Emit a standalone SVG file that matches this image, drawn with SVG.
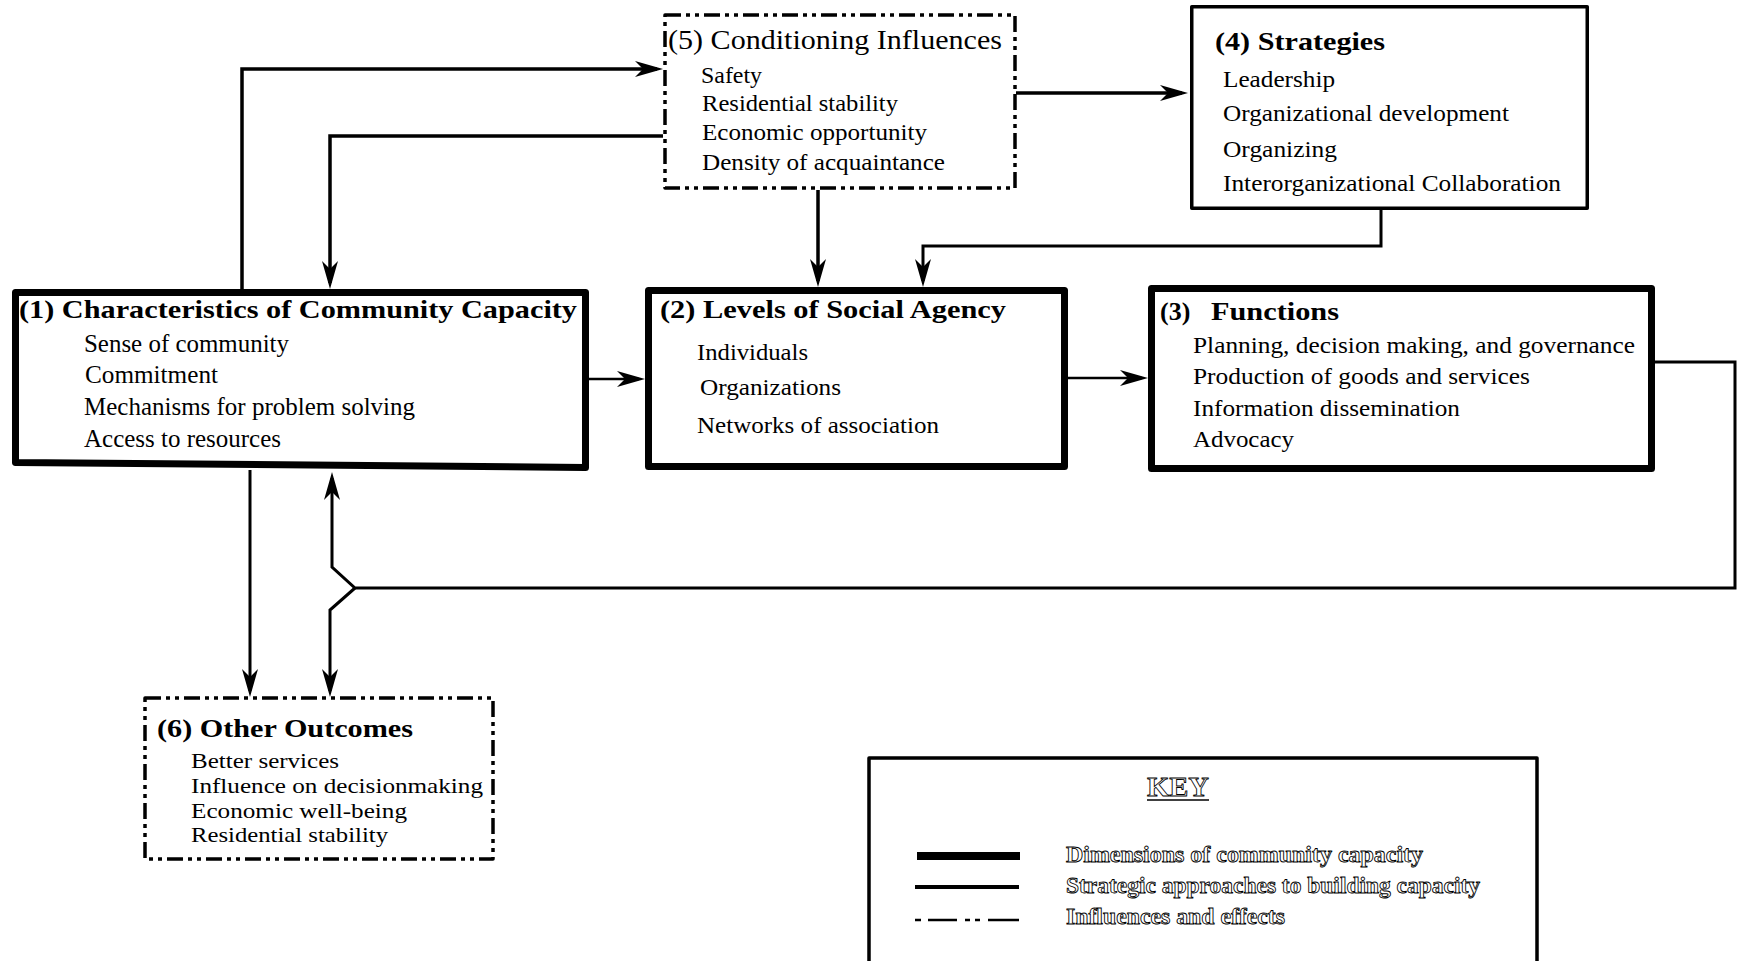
<svg xmlns="http://www.w3.org/2000/svg" width="1739" height="961" viewBox="0 0 1739 961">
<style>
  .box { fill: #fff; stroke: #000; stroke-linejoin: round; }
  .thick { stroke-width: 7; }
  .solid { stroke-width: 3.5; }
  .dash { stroke-width: 3.5; stroke-dasharray: 16 5 4 5 4 5; }
  text { font-family: "Liberation Serif", "Times New Roman", serif; fill: #000; }
  .t { font-size: 26px; font-weight: bold; }
  .t5 { font-size: 27px; }
  .i { font-size: 24px; }
  .i1 { font-size: 25px; }
  .i6 { font-size: 22px; }
  .c { fill: none; stroke: #000; stroke-width: 3.5; stroke-linejoin: miter; }
  .cm { stroke-width: 3; }
  .cs { stroke-width: 2.5; }
  .outline { fill: #fff; stroke: #000; stroke-width: 0.85; font-size: 23px; font-weight: bold; }
  .key { font-size: 28px; }
</style>
<defs>
  <marker id="arr" markerUnits="userSpaceOnUse" markerWidth="30" markerHeight="18" viewBox="0 0 30 18" refX="22" refY="9" orient="auto">
    <path d="M0,1 L28,9 L0,17 L8,9 Z" fill="#000"/>
  </marker>
</defs>

<g id="connectors">
  <path class="c" d="M242,290 V69 H657" marker-end="url(#arr)"/>
  <path class="c" d="M663,136 H330 V283" marker-end="url(#arr)"/>
  <path class="c" d="M818,190 V281" marker-end="url(#arr)"/>
  <path class="c cm" d="M1381,210 V246 H923 V281" marker-end="url(#arr)"/>
  <path class="c" d="M1016,93 H1182" marker-end="url(#arr)"/>
  <path class="c cs" d="M589,379 H639" marker-end="url(#arr)"/>
  <path class="c cs" d="M1068,378 H1142" marker-end="url(#arr)"/>
  <path class="c cm" d="M1655,362 H1735 V588 H355 L332,567 V478" marker-end="url(#arr)"/>
  <path class="c cm" d="M355,588 L330,610 V691" marker-end="url(#arr)"/>
  <path class="c cm" d="M250,470 V691" marker-end="url(#arr)"/>
</g>

<g id="node5">
  <rect class="box dash" x="665" y="15" width="350" height="173"/>
  <text class="t5" x="668" y="49" textLength="334" lengthAdjust="spacingAndGlyphs">(5) Conditioning Influences</text>
  <text class="i" x="701" y="83" textLength="61" lengthAdjust="spacingAndGlyphs">Safety</text>
  <text class="i" x="702" y="111" textLength="196" lengthAdjust="spacingAndGlyphs">Residential stability</text>
  <text class="i" x="702" y="140" textLength="225" lengthAdjust="spacingAndGlyphs">Economic opportunity</text>
  <text class="i" x="702" y="170" textLength="243" lengthAdjust="spacingAndGlyphs">Density of acquaintance</text>
</g>

<g id="node4">
  <rect class="box solid" x="1191.75" y="6.75" width="395.5" height="201.5"/>
  <text class="t" x="1215" y="50" textLength="170" lengthAdjust="spacingAndGlyphs">(4) Strategies</text>
  <text class="i" x="1223" y="87" textLength="112" lengthAdjust="spacingAndGlyphs">Leadership</text>
  <text class="i" x="1223" y="121" textLength="286" lengthAdjust="spacingAndGlyphs">Organizational development</text>
  <text class="i" x="1223" y="157" textLength="114" lengthAdjust="spacingAndGlyphs">Organizing</text>
  <text class="i" x="1223" y="191" textLength="338" lengthAdjust="spacingAndGlyphs">Interorganizational Collaboration</text>
</g>

<g id="node1">
  <path class="box thick" d="M15.5,292.5 H585.5 V467.5 L15.5,462.5 Z"/>
  <text class="t" x="19" y="318" textLength="558" lengthAdjust="spacingAndGlyphs">(1) Characteristics of Community Capacity</text>
  <text class="i1" x="84" y="352" textLength="205" lengthAdjust="spacingAndGlyphs">Sense of community</text>
  <text class="i1" x="85" y="383" textLength="133" lengthAdjust="spacingAndGlyphs">Commitment</text>
  <text class="i1" x="84" y="415" textLength="331" lengthAdjust="spacingAndGlyphs">Mechanisms for problem solving</text>
  <text class="i1" x="84" y="447" textLength="197" lengthAdjust="spacingAndGlyphs">Access to resources</text>
</g>

<g id="node2">
  <rect class="box thick" x="648.5" y="290.5" width="416" height="176"/>
  <text class="t" x="660" y="318" textLength="346" lengthAdjust="spacingAndGlyphs">(2) Levels of Social Agency</text>
  <text class="i" x="697" y="360" textLength="111" lengthAdjust="spacingAndGlyphs">Individuals</text>
  <text class="i" x="700" y="395" textLength="141" lengthAdjust="spacingAndGlyphs">Organizations</text>
  <text class="i" x="697" y="433" textLength="242" lengthAdjust="spacingAndGlyphs">Networks of association</text>
</g>

<g id="node3">
  <rect class="box thick" x="1151.5" y="288.5" width="500" height="180"/>
  <text class="t" x="1160" y="320"><tspan>(3)</tspan><tspan x="1211" textLength="128" lengthAdjust="spacingAndGlyphs">Functions</tspan></text>
  <text class="i" x="1193" y="353" textLength="442" lengthAdjust="spacingAndGlyphs">Planning, decision making, and governance</text>
  <text class="i" x="1193" y="384" textLength="337" lengthAdjust="spacingAndGlyphs">Production of goods and services</text>
  <text class="i" x="1193" y="416" textLength="267" lengthAdjust="spacingAndGlyphs">Information dissemination</text>
  <text class="i" x="1193" y="447" textLength="101" lengthAdjust="spacingAndGlyphs">Advocacy</text>
</g>

<g id="node6">
  <rect class="box dash" x="145" y="698" width="348" height="161"/>
  <text class="t" x="157" y="737" textLength="256" lengthAdjust="spacingAndGlyphs">(6) Other Outcomes</text>
  <text class="i6" x="191" y="768" textLength="148" lengthAdjust="spacingAndGlyphs">Better services</text>
  <text class="i6" x="191" y="793" textLength="292" lengthAdjust="spacingAndGlyphs">Influence on decisionmaking</text>
  <text class="i6" x="191" y="818" textLength="216" lengthAdjust="spacingAndGlyphs">Economic well-being</text>
  <text class="i6" x="191" y="842" textLength="197" lengthAdjust="spacingAndGlyphs">Residential stability</text>
</g>

<g id="key">
  <rect class="box solid" x="869" y="758" width="668" height="260"/>
  <text class="outline key" x="1147" y="796" textLength="62" lengthAdjust="spacingAndGlyphs">KEY</text>
  <line x1="1147" y1="800" x2="1209" y2="800" stroke="#000" stroke-width="1.5"/>
  <line x1="917" y1="856" x2="1020" y2="856" stroke="#000" stroke-width="8"/>
  <line x1="915" y1="887" x2="1019" y2="887" stroke="#000" stroke-width="4"/>
  <path d="M915,920 H921 M928,920 H957 M965,920 H970 M975,920 H980 M988,920 H1019" stroke="#000" stroke-width="2.5" fill="none"/>
  <text class="outline" x="1066" y="862" textLength="357" lengthAdjust="spacingAndGlyphs">Dimensions of community capacity</text>
  <text class="outline" x="1066" y="893" textLength="414" lengthAdjust="spacingAndGlyphs">Strategic approaches to building capacity</text>
  <text class="outline" x="1066" y="924" textLength="219" lengthAdjust="spacingAndGlyphs">Influences and effects</text>
</g>
</svg>
